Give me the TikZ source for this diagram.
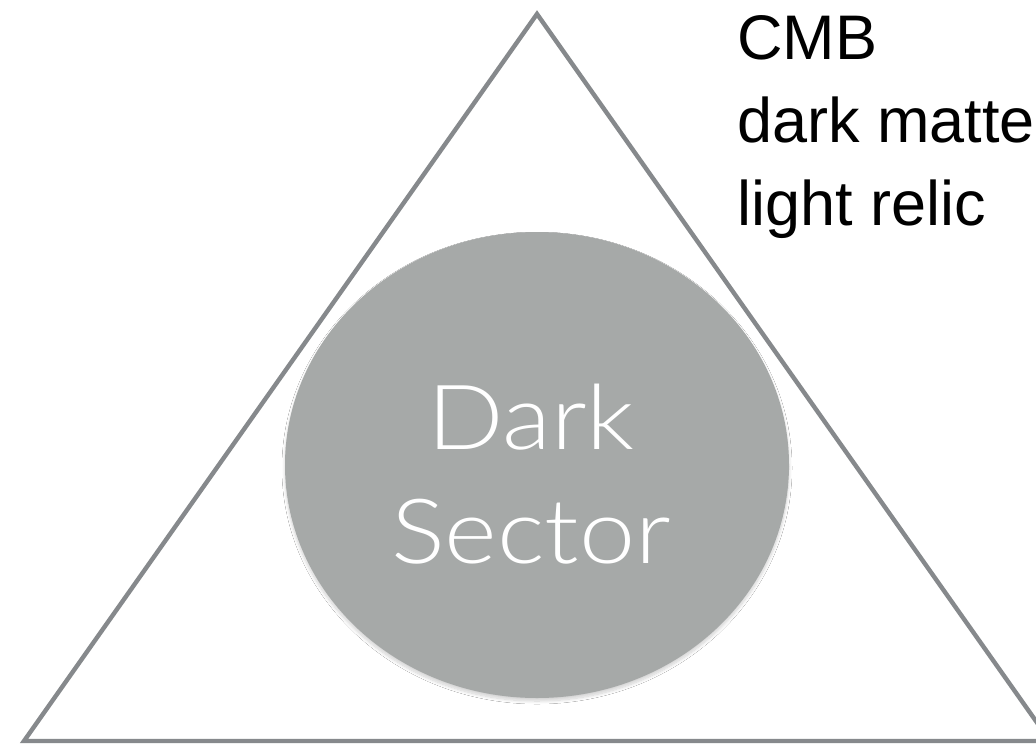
\documentclass[tikz,border=0pt]{standalone}
\usepackage{fontspec}
\setmainfont{Liberation Sans}
\newfontfamily\lightfont[FakeStretch=1.12]{Lato Light}
\usetikzlibrary{shapes.geometric,shadows.blur}
\definecolor{edgegray}{HTML}{86898C}
\definecolor{fillgray}{HTML}{A6A9A8}
\tikzset{
  tri/.style={draw=edgegray, line width=4.4pt, line join=miter},
  ball/.style={ellipse, fill=fillgray, minimum width=504pt, minimum height=466pt, inner sep=0pt,
    blur shadow={shadow xshift=0pt, shadow yshift=-3pt, shadow blur steps=10, shadow blur radius=3pt, shadow opacity=18}},
  balltext/.style={text=white, font=\lightfont\fontsize{90}{114}\selectfont, align=center},
  listtext/.style={anchor=north west, font=\fontsize{63}{83}\selectfont, align=left, inner sep=0pt}
}
\begin{document}
\begin{tikzpicture}[x=1pt,y=-1pt]
\useasboundingbox (0,0) rectangle (1036,744);
\clip (0,0) rectangle (1036,744);
\fill[white] (0,0) rectangle (1036,744);
\coordinate (apex) at (537,14);
\coordinate (bl) at (24,741);
\coordinate (br) at (1050,741);
\draw[tri] (apex) -- (bl) -- (br) -- cycle;
\node[ball] (sector) at (537,465) {};
\node[balltext] (label) at (531,474) {Dark\\Sector};
\node[listtext] (list) at (737,15) {CMB\\dark matter\\light relic};
\end{tikzpicture}
\end{document}
